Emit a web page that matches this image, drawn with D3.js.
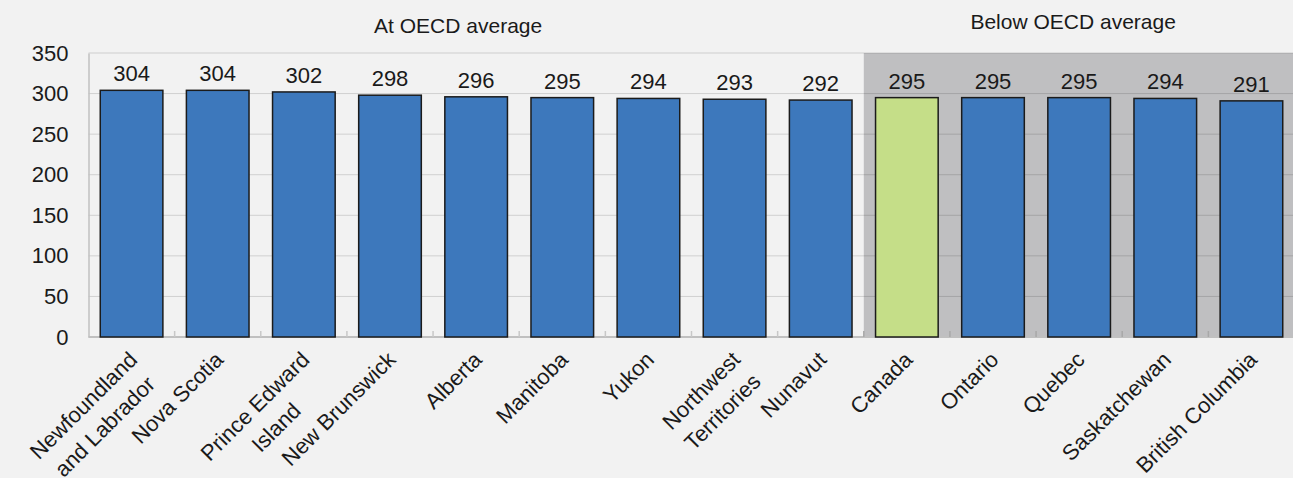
<!DOCTYPE html>
<html>
<head>
<meta charset="utf-8">
<script src="https://cdn.jsdelivr.net/npm/d3@7"></script>
<style>
  body { margin: 0; background: #f2f2f2; }
  svg { display: block; font-family: "Liberation Sans", Arial, sans-serif; }
</style>
</head>
<body>
<div id="chart-area"></div>
<script>
// categories (multi-line labels split on \n)
const provinces = [
  'Newfoundland\nand Labrador', 'Nova Scotia', 'Prince Edward\nIsland', 'New Brunswick',
  'Alberta', 'Manitoba', 'Yukon', 'Northwest\nTerritories', 'Nunavut',
  'Canada', 'Ontario', 'Quebec', 'Saskatchewan', 'British Columbia'
]
const scores = [304, 304, 302, 298, 296, 295, 294, 293, 292, 295, 295, 295, 294, 291]
const groups = ['At OECD average', 'Below OECD average']
const groupOf = [0, 0, 0, 0, 0, 0, 0, 0, 0, 1, 1, 1, 1, 1]
const yTicks = [0, 50, 100, 150, 200, 250, 300, 350]

const canvas = { width: 1293, height: 478 }
const plot = { left: 88.5, right: 1294.5, top: 53, bottom: 337 }

const data = provinces.map((p, i) => ({ name: p, score: scores[i], group: groupOf[i] }))

let svg = d3.select('#chart-area')
  .append('svg')
  .attr('width', canvas.width)
  .attr('height', canvas.height)

svg.append('rect')
  .attr('width', canvas.width).attr('height', canvas.height)
  .attr('fill', '#f2f2f2')

// x-scale
let x = d3.scaleBand()
  .domain(provinces)
  .range([plot.left, plot.right])
  .paddingInner(0.273)
  .paddingOuter(0.1365)

// y-scale
let y = d3.scaleLinear()
  .domain([0, 350])
  .range([plot.bottom, plot.top])

const step = x.step()
const groupStart = g => plot.left + step * groupOf.indexOf(g)
const groupEnd = g => plot.left + step * (groupOf.lastIndexOf(g) + 1)

// shaded "below average" block
svg.append('rect')
  .attr('x', groupStart(1))
  .attr('y', plot.top)
  .attr('width', plot.right - groupStart(1))
  .attr('height', plot.bottom - plot.top)
  .attr('fill', '#bfbfc1')

// gridlines
svg.append('g')
  .selectAll('line')
  .data(yTicks.filter(d => d > 0))
  .enter()
  .append('line')
  .attr('x1', plot.left).attr('x2', plot.right)
  .attr('y1', d => y(d)).attr('y2', d => y(d))
  .attr('stroke', '#000')
  .attr('stroke-opacity', 0.14)
  .attr('stroke-width', 1)

// y-axis
let yAxis = d3.axisLeft(y).tickValues(yTicks).tickSize(0).tickPadding(20)
let yg = svg.append('g')
  .attr('transform', `translate(${plot.left},0)`)
  .call(yAxis)
yg.select('.domain').attr('stroke', '#c0c0c0').attr('stroke-width', 1.5)
yg.selectAll('text')
  .attr('font-size', 22)
  .attr('font-family', '"Liberation Sans", Arial, sans-serif')
  .attr('fill', '#1a1a1a')

// x-axis line and inner ticks at band boundaries
svg.append('line')
  .attr('x1', plot.left).attr('x2', plot.right)
  .attr('y1', plot.bottom).attr('y2', plot.bottom)
  .attr('stroke', '#c0c0c0').attr('stroke-width', 2)

svg.append('g')
  .selectAll('line')
  .data(d3.range(1, provinces.length))
  .enter()
  .append('line')
  .attr('x1', i => plot.left + i * step).attr('x2', i => plot.left + i * step)
  .attr('y1', plot.bottom).attr('y2', plot.bottom - 6)
  .attr('stroke', i => i >= groupOf.indexOf(1) ? '#a8a8a8' : '#c8c8c8')
  .attr('stroke-width', 1.5)

// bars
svg.append('g')
  .selectAll('rect')
  .data(data)
  .enter()
  .append('rect')
  .attr('x', d => x(d.name))
  .attr('y', d => y(d.score))
  .attr('width', x.bandwidth())
  .attr('height', d => plot.bottom - y(d.score))
  .attr('fill', d => d.name === 'Canada' ? '#c5de88' : '#3d78bc')
  .attr('stroke', '#1b1b1b')
  .attr('stroke-width', 1.5)

// value labels
svg.append('g')
  .selectAll('text')
  .data(data)
  .enter()
  .append('text')
  .attr('x', d => x(d.name) + x.bandwidth() / 2)
  .attr('y', d => y(d.score) - 9)
  .attr('text-anchor', 'middle')
  .attr('font-size', 22)
  .attr('fill', '#1a1a1a')
  .text(d => d.score)

// group headers
svg.append('g')
  .selectAll('text')
  .data(groups)
  .enter()
  .append('text')
  .attr('x', (d, i) => i === 0 ? (groupStart(0) + groupEnd(0)) / 2 - 18 : (groupStart(1) + plot.right) / 2 - 6)
  .attr('y', (d, i) => i === 0 ? 33 : 29)
  .attr('text-anchor', 'middle')
  .attr('font-size', 21)
  .attr('fill', '#1a1a1a')
  .text(d => d)

// rotated category labels
const lineH = 30
let labels = svg.append('g')
  .selectAll('g')
  .data(data)
  .enter()
  .append('g')
  .attr('transform', d => `translate(${x(d.name) + x.bandwidth() / 2 + 7},361) rotate(-45)`)

labels.each(function (d) {
  const g = d3.select(this)
  const lines = d.name.split('\n')
  const texts = lines.map((l, i) => g.append('text')
    .attr('y', i * lineH)
    .attr('text-anchor', 'end')
    .attr('font-size', 22)
    .attr('fill', '#1a1a1a')
    .text(l))
  const widths = texts.map(t => t.node().getComputedTextLength())
  const maxW = d3.max(widths)
  texts.forEach((t, i) => t.attr('x', -(maxW - widths[i]) / 2))
})
</script>
</body>
</html>
